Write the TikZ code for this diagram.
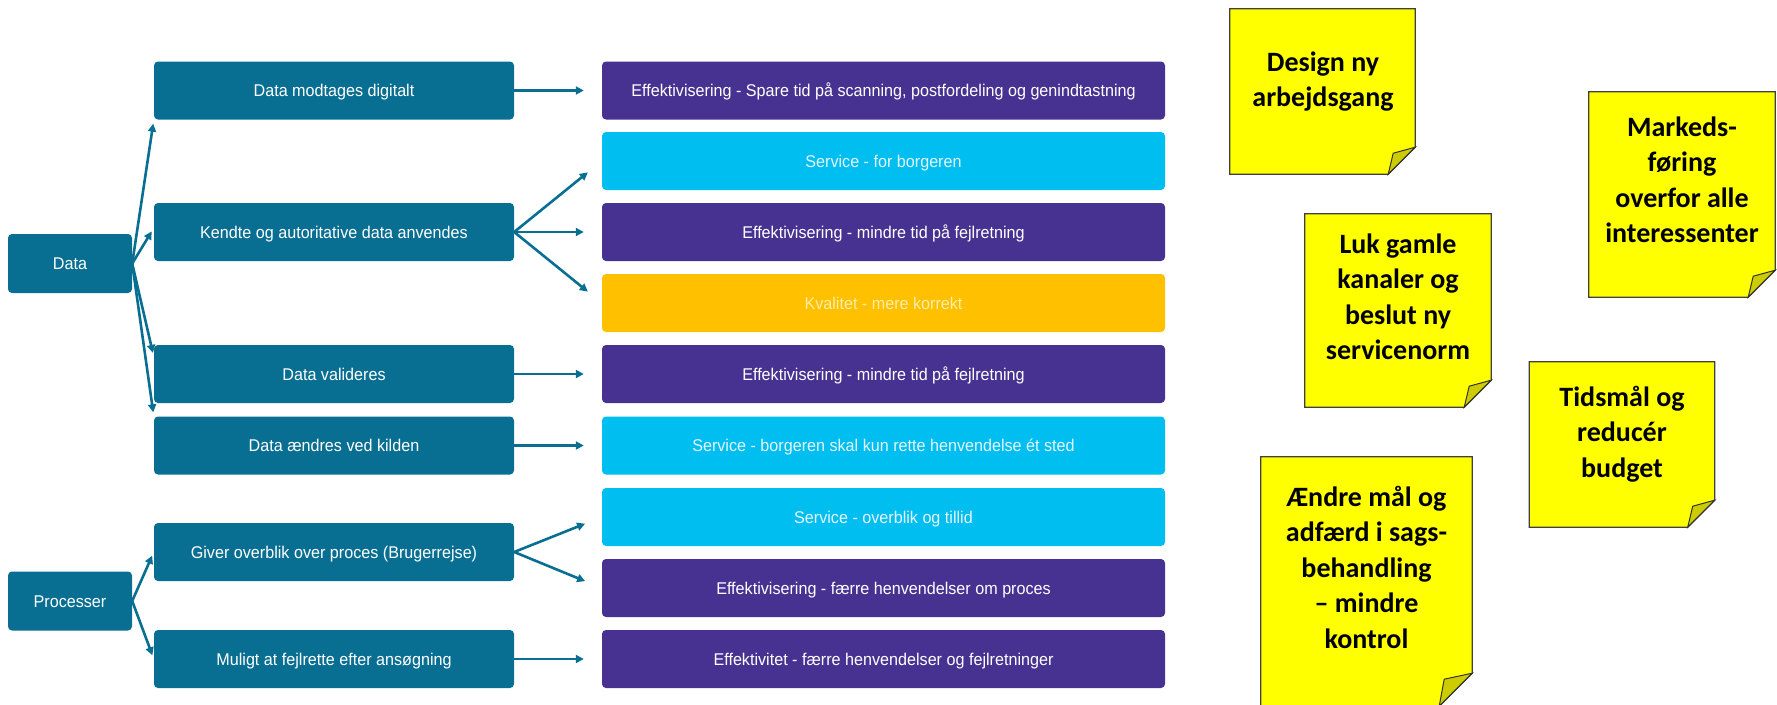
\documentclass[tikz,border=0pt]{standalone}
\usepackage{fontspec}
\usetikzlibrary{arrows.meta,positioning}
\newfontfamily\boxfont{Liberation Sans}[FakeStretch=0.95]
\newfontfamily\notefont{Carlito}
\definecolor{dataTeal}{HTML}{086F92}
\definecolor{gainPurple}{HTML}{483291}
\definecolor{gainCyan}{HTML}{00BEF0}
\definecolor{gainAmber}{HTML}{FFC000}
\definecolor{cyanText}{HTML}{E4F6FF}
\definecolor{amberText}{HTML}{FFEDA8}
\definecolor{noteYellow}{HTML}{FFFF00}
\definecolor{noteFold}{HTML}{CCCC00}
% post-it outline with a folded corner: node name, fold size
\newcommand{\postit}[2]{%
  \filldraw[noteline] (#1.north west) -- (#1.north east) -- ([yshift=#2pt]#1.south east)
    -- ([xshift=-#2pt]#1.south east) -- (#1.south west) -- cycle;
  \filldraw[foldline] ([yshift=#2pt]#1.south east) -- ([xshift=-#2pt+5pt,yshift=#2pt-6pt]#1.south east)
    -- ([xshift=-#2pt]#1.south east) -- cycle;}
\begin{document}
\begin{tikzpicture}[x=1pt,y=-1pt,
  srcbox/.style={fill=dataTeal, text=white, rounded corners=4pt, inner sep=0pt,
    minimum width=360pt, minimum height=58pt, text height=12.3pt, text depth=0pt,
    font=\boxfont\fontsize{17}{20}\selectfont},
  catbox/.style={srcbox, minimum width=124pt, minimum height=59pt},
  gain/.style={srcbox, minimum width=563pt},
  effect/.style={gain, fill=gainPurple},
  service/.style={gain, fill=gainCyan, text=cyanText},
  quality/.style={gain, fill=gainAmber, text=amberText},
  arr/.style={draw=dataTeal, line width=2.6pt, -{Triangle[length=8pt,width=8pt]}},
  gap/.style={shorten >=18pt},
  near/.style={shorten >=4pt},
  notebox/.style={inner sep=0pt},
  notetext/.style={font=\notefont\bfseries\fontsize{28}{35.5}\selectfont, align=center,
    inner sep=0pt, anchor=north},
  noteline/.style={fill=noteYellow, draw=black!75, line width=1.2pt},
  foldline/.style={fill=noteFold, draw=black!80, line width=1pt}]
\useasboundingbox (0,0) rectangle (1777,704);

% categories
\node[catbox] (data) at (70,263.5) {Data};
\node[catbox] (proc) at (70,601) {Processer};

% what happens
\node[srcbox] (dm) at (334,90.5) {Data modtages digitalt};
\node[srcbox] (kd) at (334,232) {Kendte og autoritative data anvendes};
\node[srcbox] (dv) at (334,374) {Data valideres};
\node[srcbox] (de) at (334,445.5) {Data ændres ved kilden};
\node[srcbox] (gv) at (334,552) {Giver overblik over proces (Brugerrejse)};
\node[srcbox] (mu) at (334,659) {Muligt at fejlrette efter ansøgning};

% gains
\node[effect] (e1) at (883.5,90.5) {Effektivisering - Spare tid på scanning, postfordeling og genindtastning};
\node[service] (s1) at (883.5,161) {Service - for borgeren};
\node[effect] (e2) at (883.5,232) {Effektivisering - mindre tid på fejlretning};
\node[quality] (q1) at (883.5,303) {Kvalitet - mere korrekt};
\node[effect] (e3) at (883.5,374) {Effektivisering - mindre tid på fejlretning};
\node[service] (s2) at (883.5,445.5) {Service - borgeren skal kun rette henvendelse ét sted};
\node[service] (s3) at (883.5,517) {Service - overblik og tillid};
\node[effect] (e4) at (883.5,588) {Effektivisering - færre henvendelser om proces};
\node[effect] (e5) at (883.5,659) {Effektivitet - færre henvendelser og fejlretninger};

\draw[arr,near] (data.east) -- (dm.south west);
\draw[arr,near] (data.east) -- ([yshift=4pt]kd.west);
\draw[arr,near] (data.east) -- ([yshift=-12pt]dv.north west);
\draw[arr,near] (data.east) -- (de.north west);
\draw[arr,near] (proc.east) -- (gv.west);
\draw[arr,near] (proc.east) -- (mu.west);

\draw[arr,gap] (dm.east) -- (e1.west);
\draw[arr,gap] (kd.east) -- (s1.west);
\draw[arr,gap] (kd.east) -- (e2.west);
\draw[arr,gap] (kd.east) -- (q1.west);
\draw[arr,gap] (dv.east) -- (e3.west);
\draw[arr,gap] (de.east) -- (s2.west);
\draw[arr,gap] (gv.east) -- (s3.west);
\draw[arr,gap] (gv.east) -- (e4.west);
\draw[arr,gap] (mu.east) -- (e5.west);

% post-its
\node[notebox, minimum width=185pt, minimum height=165pt] (n1) at (1322.5,91.5) {};
\node[notebox, minimum width=186pt, minimum height=205pt] (n2) at (1682,194.5) {};
\node[notebox, minimum width=186pt, minimum height=193pt] (n3) at (1398,310.5) {};
\node[notebox, minimum width=185pt, minimum height=165pt] (n4) at (1622,444.5) {};
\node[notebox, minimum width=211pt, minimum height=249pt] (n5) at (1366.5,581.5) {};
\postit{n1}{27}
\postit{n2}{27}
\postit{n3}{27}
\postit{n4}{27}
\postit{n5}{33}
\node[notetext] (t1) at (1323,46.2) {\strut Design ny\\arbejdsgang};
\node[notetext] (t2) at (1682,111.2) {\strut Markeds-\\føring\\overfor alle\\interessenter};
\node[notetext] (t3) at (1398,228.2) {\strut Luk gamle\\kanaler og\\beslut ny\\servicenorm};
\node[notetext] (t4) at (1622,381.2) {\strut Tidsmål og\\reducér\\budget};
\node[notetext] (t5) at (1366.5,481.2) {\strut Ændre mål og\\adfærd i sags-\\behandling\\– mindre\\kontrol};
\end{tikzpicture}
\end{document}
